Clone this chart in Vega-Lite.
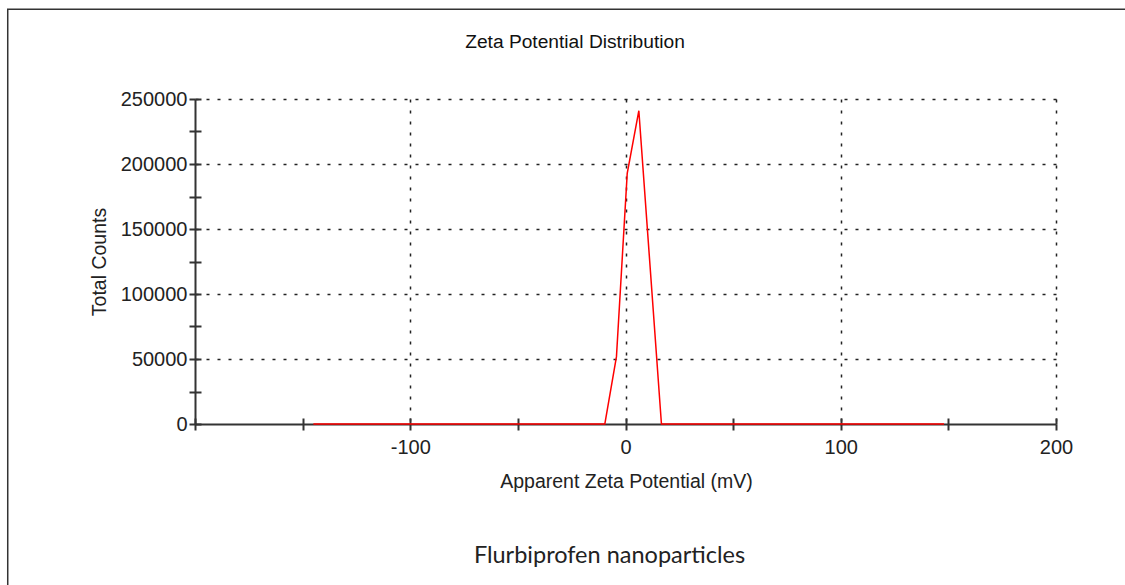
{
  "$schema": "https://vega.github.io/schema/vega-lite/v6.json",
  "width": 861,
  "height": 325,
  "autosize": {"type": "none"},
  "padding": {"left": 195, "top": 99, "right": 69, "bottom": 161},
  "background": "white",
  "config": {"view": {"stroke": null}},
  "title": {
    "text": "Zeta Potential Distribution",
    "anchor": "middle",
    "frame": "group",
    "dx": -50.5,
    "font": "Liberation Sans",
    "fontSize": 19.2,
    "fontWeight": "normal",
    "color": "#111111",
    "baseline": "alphabetic",
    "offset": -59
  },
  "data": {
    "values": [
      {"mV": -145, "counts": 0},
      {"mV": -9.6, "counts": 0},
      {"mV": -4.2, "counts": 51800},
      {"mV": 0.8, "counts": 192800},
      {"mV": 6.2, "counts": 241000},
      {"mV": 16.7, "counts": 0},
      {"mV": 148, "counts": 0}
    ]
  },
  "layer": [
    {
      "data": {"values": [{"frame": 1}]},
      "mark": {"type": "rect", "filled": false, "stroke": "#333333", "strokeWidth": 1.5},
      "encoding": {
        "x": {"datum": -287, "type": "quantitative", "axis": null},
        "x2": {"datum": 240},
        "y": {"datum": 319000, "type": "quantitative", "axis": null},
        "y2": {"datum": -140000}
      }
    },
    {
      "mark": {"type": "line", "opacity": 0},
      "encoding": {
        "x": {
          "field": "mV",
          "type": "quantitative",
          "scale": {"domain": [-200, 200], "nice": false, "zero": false},
          "axis": {
            "orient": "bottom",
            "values": [-200, -150, -100, -50, 0, 50, 100, 150, 200],
            "tickSize": -6,
            "tickWidth": 2,
            "tickColor": "#333333",
            "domain": false,
            "labels": false,
            "grid": false,
            "title": "Flurbiprofen nanoparticles",
            "titleFont": "Lato",
            "titleFontSize": 23.5,
            "titleFontWeight": "normal",
            "titleColor": "#222222",
            "titleX": 414,
            "titleY": 138,
            "titleBaseline": "alphabetic",
            "zindex": 0
          }
        },
        "y": {
          "field": "counts",
          "type": "quantitative",
          "scale": {"domain": [0, 250000], "nice": false},
          "axis": {
            "orient": "left",
            "values": [0, 25000, 50000, 75000, 100000, 125000, 150000, 175000, 200000, 225000, 250000],
            "tickSize": -6,
            "tickWidth": 2,
            "tickColor": "#333333",
            "domain": false,
            "labels": false,
            "grid": false,
            "title": null,
            "zindex": 0
          }
        }
      }
    },
    {
      "mark": {"type": "line", "color": "#ff0000", "strokeWidth": 1.5},
      "encoding": {
        "x": {
          "field": "mV",
          "type": "quantitative",
          "scale": {"domain": [-200, 200], "nice": false, "zero": false},
          "axis": {
            "orient": "bottom",
            "values": [-200, -150, -100, -50, 0, 50, 100, 150, 200],
            "labelExpr": "datum.value % 100 == 0 && datum.value != -200 ? toString(datum.value) : ''",
            "grid": true,
            "gridDash": [3, 8],
            "gridColor": "#222222",
            "gridWidth": 1.5,
            "gridOpacity": {"condition": {"test": "datum.value % 100 == 0 && datum.value != -200", "value": 1}, "value": 0},
            "tickSize": 6,
            "tickWidth": 2,
            "tickColor": "#333333",
            "domainColor": "#333333",
            "domainWidth": 2,
            "labelPadding": 7,
            "labelFont": "Liberation Sans",
            "labelFontSize": 20,
            "labelColor": "#222222",
            "labelFlush": false,
            "labelOverlap": false,
            "title": "Apparent Zeta Potential (mV)",
            "titleFont": "Liberation Sans",
            "titleFontSize": 19.5,
            "titleFontWeight": "normal",
            "titleColor": "#222222",
            "titleX": 431,
            "titleY": 63,
            "titleBaseline": "alphabetic",
            "zindex": 0
          }
        },
        "y": {
          "field": "counts",
          "type": "quantitative",
          "scale": {"domain": [0, 250000], "nice": false},
          "axis": {
            "orient": "left",
            "values": [0, 25000, 50000, 75000, 100000, 125000, 150000, 175000, 200000, 225000, 250000],
            "format": "d",
            "labelExpr": "datum.value % 50000 == 0 ? toString(datum.value) : ''",
            "grid": true,
            "gridDash": [3, 8],
            "gridColor": "#222222",
            "gridWidth": 1.5,
            "gridOpacity": {"condition": {"test": "datum.value % 50000 == 0 && datum.value > 0", "value": 1}, "value": 0},
            "tickSize": 6,
            "tickWidth": 2,
            "tickColor": "#333333",
            "domainColor": "#333333",
            "domainWidth": 2,
            "labelPadding": 2,
            "labelFont": "Liberation Sans",
            "labelFontSize": 20,
            "labelColor": "#222222",
            "labelFlush": false,
            "labelOverlap": false,
            "title": "Total Counts",
            "titleFont": "Liberation Sans",
            "titleFontSize": 19.5,
            "titleFontWeight": "normal",
            "titleColor": "#222222",
            "titleAngle": -90,
            "titleX": -90,
            "titleY": 162.5,
            "titleBaseline": "alphabetic",
            "zindex": 0
          }
        }
      }
    }
  ],
  "resolve": {"axis": {"x": "independent", "y": "independent"}}
}
